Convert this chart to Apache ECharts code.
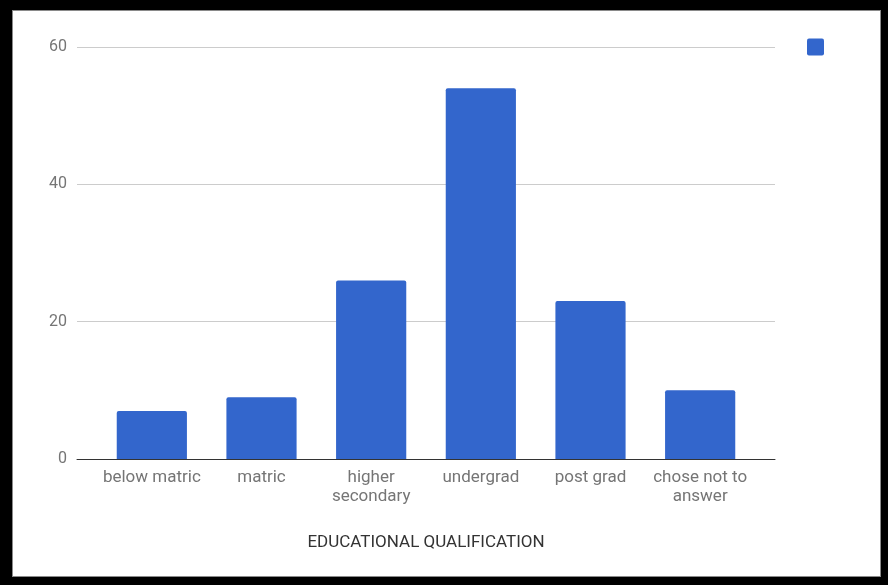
<!DOCTYPE html>
<html>
<head>
<meta charset="utf-8">
<script src="https://cdn.jsdelivr.net/npm/echarts@6/dist/echarts.min.js"></script>
<style>
  html, body { margin: 0; padding: 0; background: #fff; }
  #chart { position: absolute; left: 0; top: 0; width: 888px; height: 585px; }
  #frame {
    position: absolute; left: 0; top: 0; width: 888px; height: 585px;
    box-sizing: border-box; pointer-events: none;
    border-style: solid; border-color: #000;
    border-width: 10px 7px 8px 12px;
  }
  #frame::after {
    content: ''; position: absolute; inset: 0;
    border: 1px solid #8a8a8a;
  }
</style>
</head>
<body>
<div id="chart"></div>
<div id="frame"></div>
<script>
// Survey respondents by education level
const categories = ['below matric', 'matric', 'higher\nsecondary', 'undergrad', 'post grad', 'chose not to\nanswer'];
const counts = [7, 9, 26, 54, 23, 10];
const yTicks = [0, 20, 40, 60];
const axisTitle = 'EDUCATIONAL QUALIFICATION';
const seriesName = 'Respondents';

const yMin = yTicks[0];
const yMax = yTicks[yTicks.length - 1];
const yStep = yTicks[1] - yTicks[0];

const chart = echarts.init(document.getElementById('chart'), null, { renderer: 'canvas' });

// Grid 0 carries the value scale, gridlines and baseline across the full width;
// grid 1 is inset slightly and holds the category bands and the bars.
chart.setOption({
  animation: false,
  backgroundColor: '#fff',
  textStyle: { fontFamily: 'Roboto' },
  grid: [
    { left: 77, right: 113, top: 47, bottom: 126 },
    { left: 97, right: 133, top: 47, bottom: 126 }
  ],
  legend: {
    data: [seriesName],
    left: 807, top: 38, padding: 0,
    icon: 'path://M2,0H15A2,2 0 0 1 17,2V15A2,2 0 0 1 15,17H2A2,2 0 0 1 0,15V2A2,2 0 0 1 2,0Z',
    itemWidth: 17, itemHeight: 18,
    formatter: () => '',
    textStyle: { fontSize: 1 }
  },
  xAxis: [
    {
      gridIndex: 0,
      type: 'value', min: 0, max: 1,
      axisLabel: { show: false },
      axisTick: { show: false },
      splitLine: { show: false },
      axisLine: { show: true, onZero: false, lineStyle: { color: '#333', width: 1 } }
    },
    {
      gridIndex: 1,
      type: 'category',
      data: categories,
      name: axisTitle,
      nameLocation: 'middle',
      nameGap: 75,
      nameTextStyle: { color: '#333', fontSize: 17, fontFamily: 'Roboto' },
      axisTick: { show: false },
      axisLine: { show: false },
      axisLabel: {
        color: '#757575', fontSize: 17, fontFamily: 'Roboto',
        margin: 9, lineHeight: 19, interval: 0
      }
    }
  ],
  yAxis: [
    {
      gridIndex: 0,
      type: 'value',
      min: yMin, max: yMax, interval: yStep,
      axisLine: { show: false },
      axisTick: { show: false },
      splitLine: { lineStyle: { color: '#cccccc', width: 1 } },
      axisLabel: { color: '#757575', fontSize: 16, fontFamily: 'Roboto', margin: 10 }
    },
    {
      gridIndex: 1,
      type: 'value',
      min: yMin, max: yMax, interval: yStep,
      show: false,
      splitLine: { show: false }
    }
  ],
  series: [{
    name: seriesName,
    type: 'bar',
    xAxisIndex: 1,
    yAxisIndex: 1,
    data: counts,
    barWidth: '64%',
    z: 3,
    itemStyle: { color: '#3366cc', borderRadius: [2, 2, 0, 0] }
  }]
});
</script>
</body>
</html>
